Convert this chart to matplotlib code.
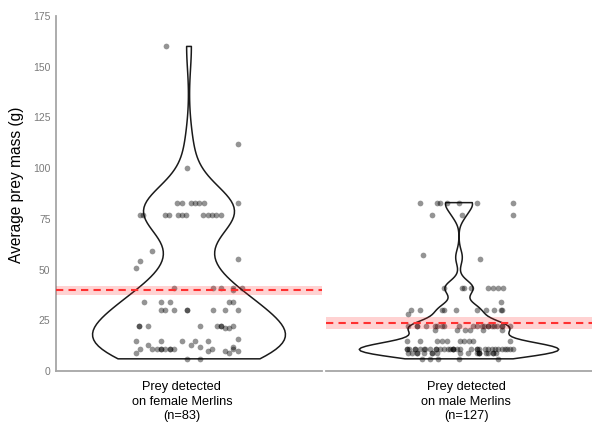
import numpy as np
import matplotlib
matplotlib.use("Agg")
import matplotlib.pyplot as plt

plt.rcParams["font.family"] = ["Liberation Sans", "DejaVu Sans"]

# Panel labels
panel_labels = [
    "Prey detected\non female Merlins\n(n=83)",
    "Prey detected\non male Merlins\n(n=127)",
]

# Female Merlins: average prey mass (g) and horizontal jitter offsets
female_mass = [
    160, 112, 100,
    83, 83, 83, 83, 83, 83, 83,
    77, 77, 77, 77, 77, 77, 77, 77, 77, 77, 77, 77,
    59, 54, 51, 55,
    41, 41, 41, 41, 40, 41,
    34, 34, 34, 34, 34,
    30, 30, 30, 30, 30, 30, 30, 30,
    22, 22, 22, 22, 22, 22, 22, 21, 21, 22,
    15, 15, 15, 15, 15, 16,
    13, 13, 12,
    11, 11, 11, 11, 11, 11, 11, 11, 11, 11, 12, 11,
    9, 10, 10, 9, 10,
    6, 6,
]
female_jitter = [
    -0.105, 0.220, -0.010,
    -0.053, -0.033, 0.008, 0.027, 0.046, 0.068, 0.220,
    -0.221, -0.206, -0.108, -0.090, -0.051, -0.033, -0.014, 0.065, 0.084, 0.104, 0.123, 0.143,
    -0.166, -0.221, -0.240, 0.220,
    -0.068, 0.107, 0.144, 0.200, 0.200, 0.240,
    -0.204, -0.126, -0.087, 0.182, 0.200,
    -0.126, -0.108, -0.068, -0.010, -0.010, 0.107, 0.164, 0.220,
    -0.224, -0.224, -0.185, 0.048, 0.125, 0.143, 0.143, 0.162, 0.182, 0.200,
    -0.240, -0.126, -0.030, 0.028, 0.087, 0.220,
    -0.184, 0.009, 0.048,
    -0.221, -0.166, -0.146, -0.126, -0.126, -0.108, -0.087, -0.087, -0.068, 0.105, 0.200, 0.200,
    -0.240, 0.087, 0.164, 0.182, 0.220,
    -0.010, 0.048,
]

# Male Merlins: average prey mass (g) and horizontal jitter offsets
male_mass = [
    83, 83, 83, 83, 83, 83, 83,
    77, 77, 77,
    57, 55,
    41, 41, 41, 41, 41, 41, 41, 41,
    34,
    30, 30, 30, 30, 30, 30, 30, 30, 30, 30,
    28,
    22, 22, 22, 22, 22, 22, 22, 22, 22, 22, 22,
    22, 22, 22, 22, 22, 22, 22, 22, 22, 22,
    20, 20, 20, 20, 20, 20,
    15, 15, 15, 15, 15, 15, 15, 15, 15, 15,
    11, 11, 11, 11, 11, 11, 11, 11, 11, 11,
    11, 11, 11, 11, 11, 11, 11, 11, 11, 11,
    11, 11, 11, 11, 11, 11, 11, 11, 11, 11,
    11, 11, 11, 11,
    9, 9, 9, 9, 9, 9, 9, 9, 9, 9,
    9, 9, 9, 9, 9, 9, 9, 9, 9,
    6, 6, 6, 6, 6,
]
male_jitter = [
    -0.176, -0.098, -0.086, -0.053, 0.001, 0.083, 0.242,
    -0.120, 0.015, 0.242,
    -0.161, 0.095,
    -0.068, 0.012, 0.024, 0.054, 0.132, 0.155, 0.177, 0.200,
    0.188,
    -0.217, -0.176, -0.078, -0.066, -0.012, 0.083, 0.120, 0.157, 0.189, 0.194,
    -0.229,
    -0.231, -0.188, -0.188, -0.108, -0.098, -0.078, -0.066, 0.001, 0.062, 0.083, 0.102,
    0.114, 0.132, 0.132, 0.147, 0.158, 0.173, 0.194, 0.194, 0.230, -0.150,
    -0.108, -0.010, 0.027, 0.110, 0.195, 0.050,
    -0.236, -0.176, -0.098, -0.078, -0.055, 0.005, 0.023, 0.046, 0.065, 0.230,
    -0.236, -0.236, -0.227, -0.198, -0.176, -0.152, -0.131, -0.105, -0.086, -0.068,
    -0.041, -0.026, -0.026, -0.010, 0.005, 0.054, 0.080, 0.092, 0.117, 0.147,
    0.162, 0.177, 0.192, 0.207, 0.230, 0.245, -0.198, -0.105, -0.026, 0.080,
    -0.160, -0.050, 0.130, 0.215,
    -0.228, -0.188, -0.158, -0.124, -0.101, 0.005, 0.080, 0.092, 0.092, 0.132,
    0.155, 0.167, -0.188, -0.124, 0.155, 0.092, -0.210, 0.040, 0.120,
    -0.168, -0.131, -0.093, 0.001, 0.174,
]

# Group means with their uncertainty bands
group_means = [39.8, 23.6]
band_low = [37.6, 20.8]
band_high = [42.0, 26.4]

y_ticks = [0, 25, 50, 75, 100, 125, 150, 175]


def nrd0(kde):
    d = np.asarray(kde.dataset).ravel()
    sd = d.std(ddof=1)
    q75, q25 = np.percentile(d, [75, 25])
    lo = min(sd, (q75 - q25) / 1.34)
    h = 0.9 * lo * len(d) ** -0.2
    return h / sd


W, H = 592, 424
fig = plt.figure(figsize=(W / 100, H / 100), dpi=100)
ax_l = fig.add_axes([56 / W, (H - 371) / H, 266 / W, 355 / H])
ax_r = fig.add_axes([326 / W, (H - 371) / H, 266 / W, 355 / H], sharey=ax_l)

groups = [(female_mass, female_jitter), (male_mass, male_jitter)]
widths = [0.87, 0.9]
label_pos = [0.968, 1.032]
axis_grey = "#a6a6a6"

for i, (ax, (mass, jit)) in enumerate(zip([ax_l, ax_r], groups)):
    parts = ax.violinplot([mass], positions=[1], widths=widths[i],
                          showextrema=False, bw_method=nrd0)
    for body in parts["bodies"]:
        body.set_facecolor("none")
        body.set_edgecolor("#1a1a1a")
        body.set_linewidth(1.1)
        body.set_alpha(1)
        body.set_zorder(2)

    ax.scatter(1 + np.array(jit), mass, s=17, color="black", alpha=0.42,
               linewidths=0, zorder=3)

    ax.axhspan(band_low[i], band_high[i], color="#ff2020", alpha=0.2,
               linewidth=0, zorder=4)
    ax.axhline(group_means[i], color="#ff3030", lw=1.5, dashes=(3.5, 2.5),
               zorder=5)

    ax.set_xlim(0.4, 1.6)
    ax.set_ylim(0, 175)
    ax.set_xticks([label_pos[i]])
    ax.set_xticklabels([panel_labels[i]], fontsize=9.2, linespacing=1.32)
    ax.tick_params(axis="x", length=0, pad=7)
    for s in ["top", "right", "left"]:
        ax.spines[s].set_visible(False)
    ax.spines["bottom"].set_color(axis_grey)
    ax.spines["bottom"].set_linewidth(1.3)

ax_l.spines["left"].set_visible(True)
ax_l.spines["left"].set_color(axis_grey)
ax_l.spines["left"].set_linewidth(1.3)
ax_l.set_yticks(y_ticks)
ax_l.tick_params(axis="y", length=0, pad=4, labelsize=7.5, labelcolor="#7a7a7a")
ax_l.set_ylabel("Average prey mass (g)", fontsize=11.2)
ax_l.yaxis.set_label_coords(-0.122, 0.524)
ax_r.tick_params(axis="y", left=False, labelleft=False)

fig.savefig("out.png", dpi=100)
